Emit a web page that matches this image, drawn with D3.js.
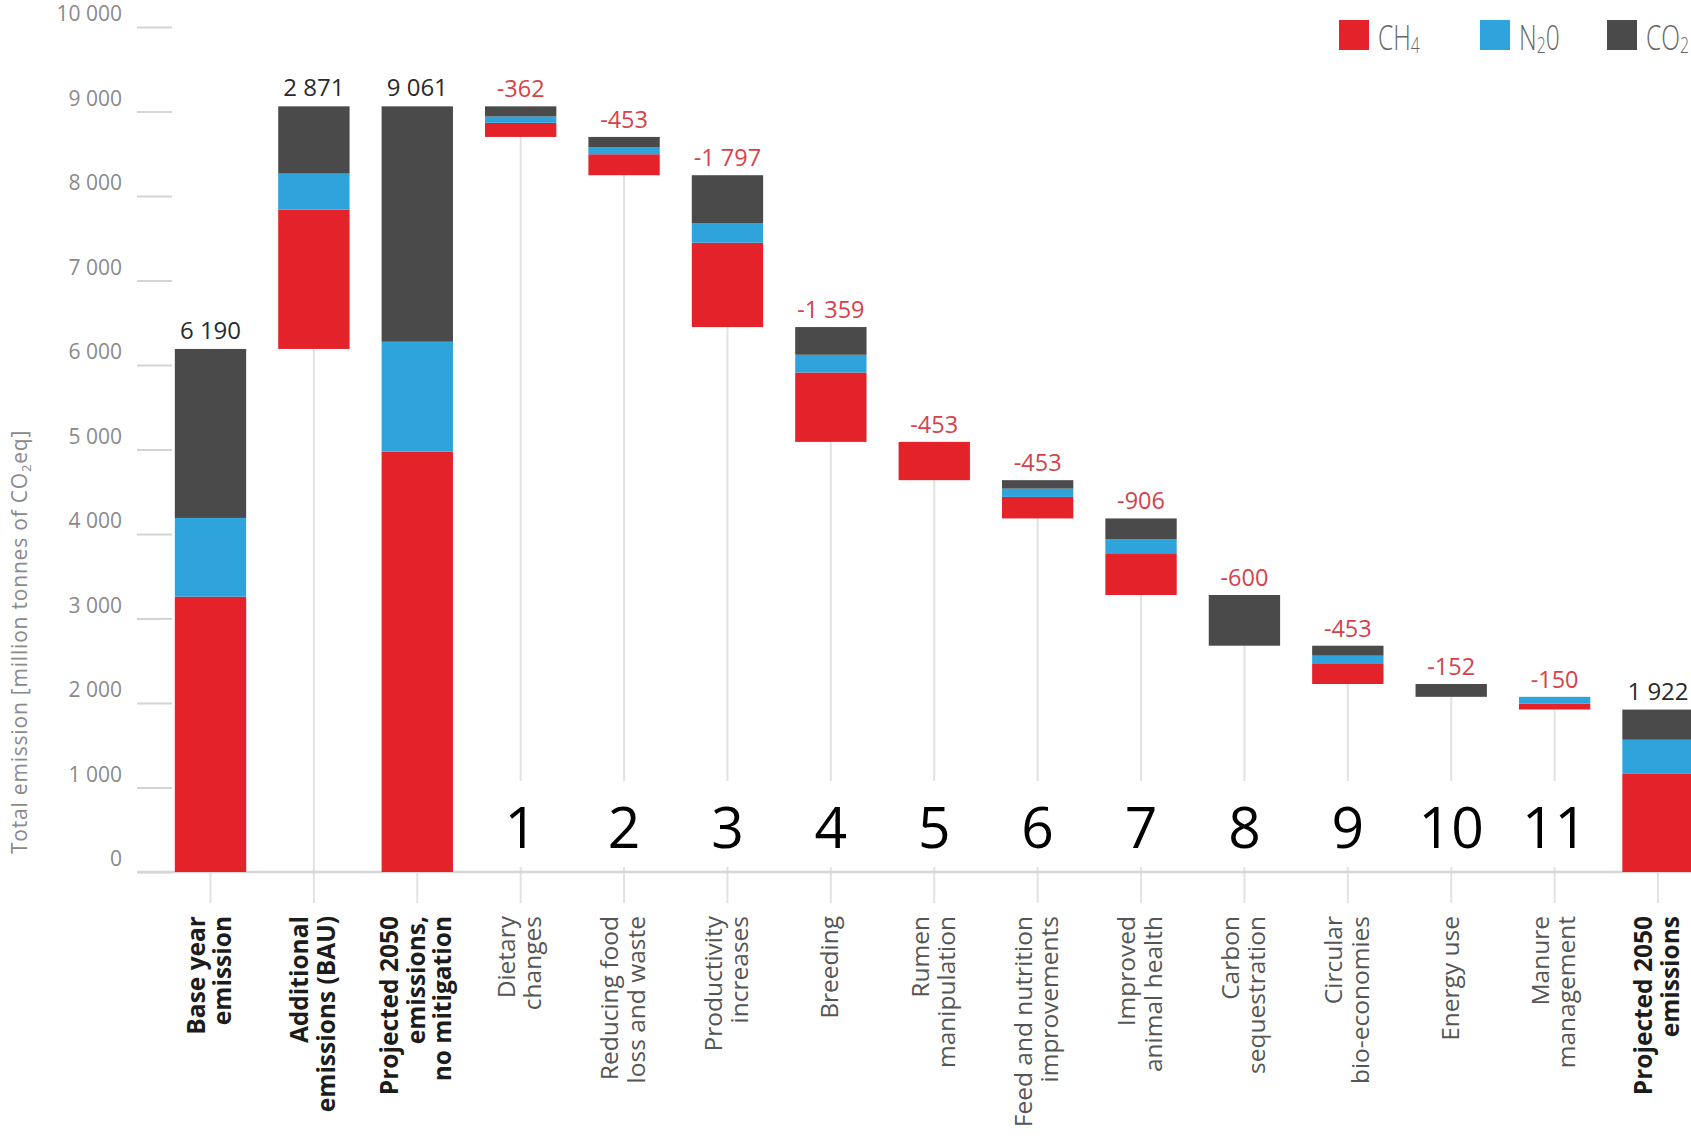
<!DOCTYPE html>
<html>
<head>
<meta charset="utf-8">
<script src="https://cdn.jsdelivr.net/npm/d3@7"></script>
<style>
html,body{margin:0;padding:0;background:#fff;overflow:hidden}
text{font-family:"Open Sans","Noto Sans",sans-serif}
</style>
</head>
<body>
<svg id="chart" width="1691" height="1139"></svg>
<script>
// ---------------- DATA ----------------
const categories = [
  "Base year emission","Additional emissions (BAU)","Projected 2050 emissions, no mitigation",
  "Dietary changes","Reducing food loss and waste","Productivity increases","Breeding",
  "Rumen manipulation","Feed and nutrition improvements","Improved animal health",
  "Carbon sequestration","Circular bio-economies","Energy use","Manure management",
  "Projected 2050 emissions"
];
const labelLines = [
  ["Base year","emission"],["Additional","emissions (BAU)"],["Projected 2050","emissions,","no mitigation"],
  ["Dietary","changes"],["Reducing food","loss and waste"],["Productivity","increases"],["Breeding"],
  ["Rumen","manipulation"],["Feed and nutrition","improvements"],["Improved","animal health"],
  ["Carbon","sequestration"],["Circular","bio-economies"],["Energy use"],["Manure","management"],
  ["Projected 2050","emissions"]
];
const boldLabel = [true,true,true,false,false,false,false,false,false,false,false,false,false,false,true];
const kinds = ["total","increase","total","decrease","decrease","decrease","decrease","decrease",
  "decrease","decrease","decrease","decrease","decrease","decrease","total"];
const ch4 = [3258, 1650, 4975, 167, 248, 998, 821, 453, 255, 494,   0, 245,   0, 70, 1161];
const n2o = [ 932,  425, 1300,  75,  80, 233, 210,   0,  98, 165,   0,  90,   0, 80,  404];
const co2 = [2000,  796, 2786, 120, 125, 566, 328,   0, 100, 247, 600, 118, 152,  0,  357];
const valueLabels = ["6 190","2 871","9 061","-362","-453","-1 797","-1 359","-453","-453","-906",
  "-600","-453","-152","-150","1 922"];
const stepNumbers = ["","","","1","2","3","4","5","6","7","8","9","10","11",""];
const yTicks = [0,1000,2000,3000,4000,5000,6000,7000,8000,9000,10000];
const yTickLabels = ["0","1 000","2 000","3 000","4 000","5 000","6 000","7 000","8 000","9 000","10 000"];
const gases = ["CH4","N2O","CO2"];
const legendParts = [[["CH",false],["4",true]],[["N",false],["2",true],["0",false]],[["CO",false],["2",true]]];

// ---------------- STYLE / LAYOUT ----------------
const W = 1691, H = 1139;
const colors = {CH4:"#e3222a", N2O:"#2fa3dc", CO2:"#4b4a4a"};
const svg = d3.select("#chart");
svg.append("rect").attr("width",W).attr("height",H).attr("fill","#fff");

const y = d3.scaleLinear().domain([0,10000]).range([872,27]);
const x = d3.scaleBand().domain(categories).range([158.8,1709.7]).paddingInner(0.31).paddingOuter(0.155);
const bw = x.bandwidth();
const cx = c => x(c) + bw/2;

// waterfall bases
let running = 0;
const bars = categories.map((c,i) => {
  const tot = ch4[i] + n2o[i] + co2[i];
  let base;
  if (kinds[i] === "total") { base = 0; running = tot; }
  else if (kinds[i] === "increase") { base = running; running += tot; }
  else { base = running - tot; running -= tot; }
  const vals = [ch4[i], n2o[i], co2[i]];
  let acc = base;
  const segs = [];
  vals.forEach((v,k) => { if (v > 0) segs.push({gas:gases[k], y0:acc, y1:acc+v}); acc += v; });
  return {cat:c, i, base, top: base + tot, segs};
});

// ---------------- Y AXIS ----------------
const yAxis = d3.axisLeft(y).tickValues(yTicks).tickSize(35).tickPadding(15)
  .tickFormat((d,i) => yTickLabels[i]);
const gy = svg.append("g").attr("transform","translate(172,0)").call(yAxis);
gy.select(".domain").remove();
gy.selectAll(".tick line").attr("stroke","#d4d4d4").attr("stroke-width",2);
gy.selectAll(".tick text").attr("fill","#8a8a8a").attr("font-size",21)
  .attr("font-family","'Open Sans',sans-serif").attr("dy","-0.3em");

// y title
const yt = svg.append("text").attr("transform","translate(27,642) rotate(-90)")
  .attr("text-anchor","middle").attr("fill","#8a8a8a").attr("font-size",21)
  .attr("letter-spacing",0.8);
yt.append("tspan").text("Total emission [million tonnes of CO");
yt.append("tspan").attr("font-size",13).attr("dy",4).text("2");
yt.append("tspan").attr("dy",-4).text("eq]");

// ---------------- CONNECTORS / X AXIS ----------------
svg.append("g").selectAll("line").data(bars).join("line")
  .attr("x1", d => cx(d.cat)).attr("x2", d => cx(d.cat))
  .attr("y1", d => y(d.base)).attr("y2", 903)
  .attr("stroke","#e2e2e2").attr("stroke-width",2);

svg.append("line").attr("x1",137).attr("x2",W).attr("y1",y(0)).attr("y2",y(0))
  .attr("stroke","#d6d6d6").attr("stroke-width",2.5);

// ---------------- BARS ----------------
const gb = svg.append("g");
bars.forEach(b => {
  gb.selectAll(null).data(b.segs).join("rect")
    .attr("x", x(b.cat)).attr("width", bw)
    .attr("y", d => y(d.y1)).attr("height", d => y(d.y0) - y(d.y1))
    .attr("fill", d => colors[d.gas]);
});

// value labels
svg.append("g").selectAll("text").data(bars).join("text")
  .attr("x", d => cx(d.cat))
  .attr("y", d => y(d.top) - (kinds[d.i] === "decrease" ? 9 : 10))
  .attr("text-anchor","middle")
  .attr("font-size", d => kinds[d.i] === "decrease" ? 23.5 : 24)
  .attr("fill", d => kinds[d.i] === "decrease" ? "#d6424a" : "#2a2a2a")
  .text(d => valueLabels[d.i]);

// ---------------- STEP NUMBERS ----------------
const numbered = bars.filter(d => stepNumbers[d.i] !== "");
const first = numbered[0], last = numbered[numbered.length-1];
svg.append("rect")
  .attr("x", x(first.cat) - 22).attr("width", x(last.cat) + bw + 22 - (x(first.cat) - 22))
  .attr("y", 781).attr("height", 86).attr("fill","#fff");
svg.append("g").selectAll("text").data(numbered).join("text")
  .attr("x", d => cx(d.cat)).attr("y", 848)
  .attr("text-anchor","middle").attr("font-size",57)
  .attr("font-family","'Liberation Sans',Arial,sans-serif").attr("fill","#000")
  .text(d => stepNumbers[d.i]);

// ---------------- X LABELS ----------------
const gl = svg.append("g");
bars.forEach(b => {
  const lines = labelLines[b.i];
  const n = lines.length;
  const t = gl.append("text")
    .attr("transform", `translate(${cx(b.cat)},916) rotate(-90)`)
    .attr("text-anchor","end").attr("font-size",24.5)
    .attr("font-weight", boldLabel[b.i] ? 700 : 400)
    .attr("fill", boldLabel[b.i] ? "#1c1c1c" : "#555");
  lines.forEach((ln,k) => {
    t.append("tspan").attr("x",0).attr("y", (k - (n-1)/2) * 26.5 + 7.5).text(ln);
  });
});

// ---------------- LEGEND ----------------
const LEGEND_X = [1339, 1480, 1607];
const gLeg = svg.append("g");
gases.forEach((g,k) => {
  gLeg.append("rect").attr("x", LEGEND_X[k]).attr("y",20).attr("width",30).attr("height",30)
    .attr("fill", colors[g]);
  const t = gLeg.append("text")
    .attr("transform", `translate(${LEGEND_X[k] + 39},50) scale(0.72,1)`)
    .attr("font-family","Roboto,'Liberation Sans',sans-serif")
    .attr("font-weight",300).attr("font-size",34).attr("fill","#666");
  let shifted = false;
  legendParts[k].forEach(([s,sub]) => {
    const ts = t.append("tspan").text(s);
    if (sub) { ts.attr("font-size",22).attr("dy", shifted ? 0 : 3); shifted = true; }
    else if (shifted) { ts.attr("dy",-3); shifted = false; }
  });
});
</script>
</body>
</html>
